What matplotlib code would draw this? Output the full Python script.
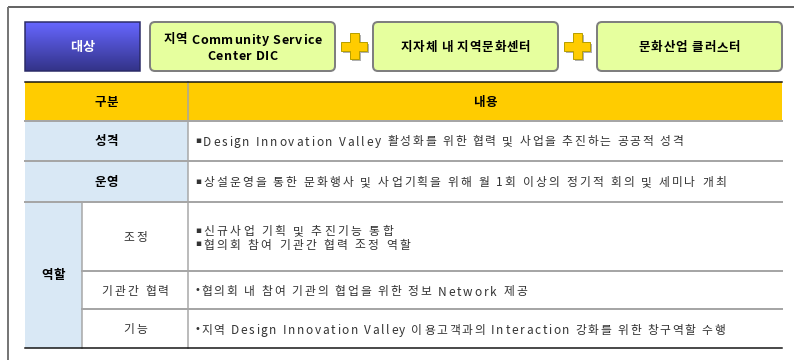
import matplotlib
matplotlib.use("Agg")
import matplotlib.pyplot as plt
import numpy as np
from matplotlib.patches import Rectangle, FancyBboxPatch, Polygon
from matplotlib.font_manager import FontProperties

FAM = ['Noto Sans CJK KR', 'DejaVu Sans']
plt.rcParams['font.family'] = FAM

# ---- content ----
target_label = "대상"
top_boxes = ["지역 Community Service\nCenter DIC", "지자체 내 지역문화센터", "문화산업 클러스터"]
header = ["구분", "내용"]
row_labels = ["성격", "운영"]
row_texts = [
    "▪Design Innovation Valley 활성화를 위한 협력 및 사업을 추진하는 공공적 성격",
    "▪상설운영을 통한 문화행사 및 사업기획을 위해 월 1회 이상의 정기적 회의 및 세미나 개최",
]
role_label = "역할"
sub_labels = ["조정", "기관간 협력", "기능"]
sub_texts = [
    ["▪신규사업 기획 및 추진기능 통합", "▪협의회 참여 기관간 협력 조정 역할"],
    ["•협의회 내 참여 기관의 협업을 위한 정보 Network 제공"],
    ["•지역 Design Innovation Valley 이용고객과의 Interaction 강화를 위한 창구역할 수행"],
]

# ---- layout (pixels) ----
W, H = 794, 360
fig = plt.figure(figsize=(W / 100, H / 100), dpi=100)
ax = fig.add_axes([0, 0, 1, 1])
ax.set_xlim(0, W)
ax.set_ylim(H, 0)
ax.axis('off')
renderer = fig.canvas.get_renderer()

PX = 0.72  # points per pixel

# right edge of each content line (letter-spaced text, layout only)
row_ends = [683, 726]
sub_ends = [[393, 410], [527], [725]]


def is_hangul(c):
    return '\uac00' <= c <= '\ud7a3'


def tracked(x, y, s, size, weight='normal', color='black', ha='left',
            t_h=0.4, t_o=1.5, end=None, zorder=5):
    fp = FontProperties(family=FAM, size=size, weight=weight)

    def wid(t):
        return renderer.get_text_width_height_descent(t, fp, ismath=False)[0]

    base = wid('.')
    nat = [0.0] + [wid(s[:i] + '.') - base for i in range(1, len(s))]
    if end is not None and len(s) > 1:
        g = (end - x - wid(s)) / (len(s) - 1)
        pos = [p + i * g for i, p in enumerate(nat)]
    else:
        pos = [0.0]
        extra = 0.0
        for i in range(1, len(s)):
            extra += t_h if is_hangul(s[i - 1]) else t_o
            pos.append(nat[i] + extra)
    total = pos[-1] + wid(s[-1])
    x0 = x - total / 2 if ha == 'center' else x
    for p, ch in zip(pos, s):
        if ch != ' ':
            ax.text(x0 + p, y, ch, fontproperties=fp, color=color,
                    ha='left', va='baseline', zorder=zorder)


# outer frame
ax.plot([8, W], [7, 7], color='#333333', lw=1.5 * PX, solid_capstyle='butt')
ax.plot([8, 8], [7, H], color='#777777', lw=2 * PX, solid_capstyle='butt')

# target box with gradient
bx0, bx1, by0, by1 = 25, 140, 22, 71
grad = np.linspace(0, 1, 100).reshape(-1, 1)
top_c = np.array([0x66, 0x66, 0xff]) / 255
bot_c = np.array([0x33, 0x33, 0x88]) / 255
img = top_c[None, None, :] * (1 - grad[:, :, None]) + bot_c[None, None, :] * grad[:, :, None]
ax.imshow(img, extent=[bx0, bx1, by1, by0], aspect='auto', zorder=2)
ax.add_patch(Rectangle((bx0, by0), bx1 - bx0, by1 - by0, fill=False,
                       edgecolor='#2a2a66', lw=1.5 * PX, zorder=3))
tracked((bx0 + bx1) / 2, (by0 + by1) / 2 + 5, target_label, 9.5, weight='bold',
        color='white', ha='center', t_h=1.0)

# green boxes
box_x = [(150, 335), (373, 558), (597, 782)]
for (x0, x1), label in zip(box_x, top_boxes):
    ax.add_patch(FancyBboxPatch((x0, by0), x1 - x0, by1 - by0,
                                boxstyle="round,pad=0,rounding_size=5",
                                facecolor='#e6ff9e', edgecolor='#7f7f7f',
                                lw=2 * PX, zorder=2))
    lines = label.split('\n')
    n = len(lines)
    yc = (by0 + by1) / 2
    for i, ln in enumerate(lines):
        tracked((x0 + x1) / 2, yc + 5 + (i - (n - 1) / 2) * 16, ln, 9,
                weight='bold', ha='center', t_h=0.9, t_o=0.6)

# plus signs
def plus(cx, cy, arm=13, half=4.5, **kw):
    pts = [(cx - half, cy - arm), (cx + half, cy - arm), (cx + half, cy - half),
           (cx + arm, cy - half), (cx + arm, cy + half), (cx + half, cy + half),
           (cx + half, cy + arm), (cx - half, cy + arm), (cx - half, cy + half),
           (cx - arm, cy + half), (cx - arm, cy - half), (cx - half, cy - half)]
    return Polygon(pts, closed=True, **kw)

for cx in [354, 577]:
    ax.add_patch(plus(cx + 2, 48, facecolor='#b0b0b0', edgecolor='none', zorder=2))
    ax.add_patch(plus(cx, 46, facecolor='#ffcc00', edgecolor='#b8a000', lw=1 * PX, zorder=3))

# ---- table ----
TL, TR = 25, 782
C1, SUB = 188, 82
y_head = (82, 121)
y_rows = [(121, 161), (161, 202)]
y_sub = [(202, 271), (271, 309), (309, 348)]
blue = '#d9e8f5'
gray = '#a6a6a6'

ax.add_patch(Rectangle((TL, y_head[0]), TR - TL, y_head[1] - y_head[0],
                       facecolor='#ffcc00', edgecolor='none', zorder=1))
for (y0, y1) in y_rows:
    ax.add_patch(Rectangle((TL, y0), C1 - TL, y1 - y0, facecolor=blue,
                           edgecolor='none', zorder=1))
ax.add_patch(Rectangle((TL, y_sub[0][0]), SUB - TL, y_sub[-1][1] - y_sub[0][0],
                       facecolor=blue, edgecolor='none', zorder=1))

# lines
ax.plot([TL, TR], [y_head[0], y_head[0]], color='#111111', lw=1.5 * PX, zorder=4)
ax.plot([TL, TR], [y_sub[-1][1], y_sub[-1][1]], color='#111111', lw=1.5 * PX, zorder=4)
for y in [y_head[1], y_rows[0][1], y_rows[1][1]]:
    ax.plot([TL, TR], [y, y], color=gray, lw=2 * PX, zorder=3)
for y in [y_sub[0][1], y_sub[1][1]]:
    ax.plot([SUB, TR], [y, y], color=gray, lw=2 * PX, zorder=3)
ax.plot([C1, C1], [y_head[0], y_sub[-1][1]], color=gray, lw=1.5 * PX, zorder=3)
ax.plot([SUB, SUB], [y_sub[0][0], y_sub[-1][1]], color=gray, lw=1.5 * PX, zorder=3)

BL = 4.5  # baseline offset from row centre

# header text
tracked((TL + C1) / 2, sum(y_head) / 2 + BL, header[0], 9, weight='bold', ha='center')
tracked((C1 + TR) / 2, sum(y_head) / 2 + BL, header[1], 9, weight='bold', ha='center')

TX = 195
CS = 8.5  # content font size


def content_line(y, s, end):
    bullet, rest = s[0], s[1:]
    square = bullet == '▪'
    ax.text(TX, y + BL - 2.2, bullet, family='DejaVu Sans',
            fontsize=6.5 if square else 7, color='#333333',
            ha='left', va='baseline', zorder=5)
    tracked(TX + (8 if square else 6), y + BL, rest, CS, color='#333333', end=end)


for (y0, y1), lab, txt, e in zip(y_rows, row_labels, row_texts, row_ends):
    yc = (y0 + y1) / 2
    tracked((TL + C1) / 2, yc + BL, lab, 9, weight='bold', ha='center')
    content_line(yc, txt, e)

tracked((TL + SUB) / 2, (y_sub[0][0] + y_sub[-1][1]) / 2 + BL, role_label, 9,
        weight='bold', ha='center')
for (y0, y1), lab, lines, ends in zip(y_sub, sub_labels, sub_texts, sub_ends):
    yc = (y0 + y1) / 2
    tracked((SUB + C1) / 2, yc + BL, lab, CS, color='#333333', ha='center',
            t_h=2.2, t_o=2.2)
    n = len(lines)
    for i, (ln, e) in enumerate(zip(lines, ends)):
        content_line(yc + 1 + (i - (n - 1) / 2) * 13, ln, e)

fig.savefig('out.png', dpi=100)
